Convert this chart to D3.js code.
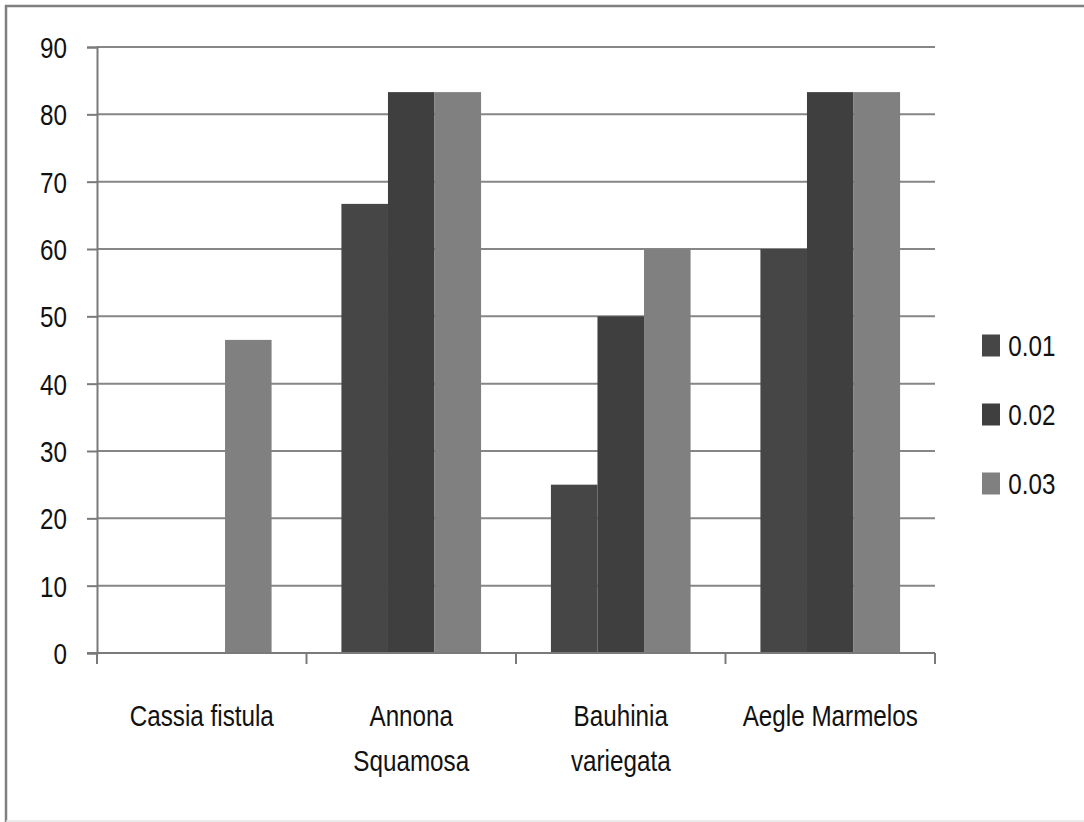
<!DOCTYPE html>
<html>
<head>
<meta charset="utf-8">
<script src="https://cdn.jsdelivr.net/npm/d3@7"></script>
<style>
  html, body { margin: 0; padding: 0; background: #fff; }
  svg { display: block; }
  text { font-family: "Liberation Sans", Arial, sans-serif; fill: #111; }
</style>
</head>
<body>
<svg id="chart" width="1084" height="822"></svg>
<script>
// Plant extracts and their response at three concentrations
const categories = [["Cassia fistula"], ["Annona", "Squamosa"], ["Bauhinia", "variegata"], ["Aegle Marmelos"]];
const seriesNames = ["0.01", "0.02", "0.03"];
const series001 = [null, 66.7, 25, 60];
const series002 = [null, 83.3, 50, 83.3];
const series003 = [46.5, 83.3, 60, 83.3];
const yTicks = [0, 10, 20, 30, 40, 50, 60, 70, 80, 90];
const seriesColors = ["#464646", "#3f3f3f", "#808080"];

const seriesValues = [series001, series002, series003];
const catKeys = categories.map(c => c.join(" "));
const textStretch = "scale(0.97,1.17)"; // tall, narrow lettering

const svg = d3.select("#chart");

// outer chart frame (right and bottom edges run off the canvas)
svg.append("rect")
  .attr("x", 6).attr("y", 6).attr("width", 1100).attr("height", 830)
  .attr("fill", "none").attr("stroke", "#7f7f7f").attr("stroke-width", 2.5);
svg.append("line").attr("x1", 6).attr("x2", 1084).attr("y1", 821).attr("y2", 821)
  .attr("stroke", "#e4e4e4").attr("stroke-width", 1.5);

const plot = { left: 97, right: 935, top: 47, bottom: 653 };

const y = d3.scaleLinear().domain([0, 90]).range([plot.bottom, plot.top]);
const x = d3.scaleBand().domain(catKeys).range([plot.left, plot.right]).paddingInner(0).paddingOuter(0);
const xs = d3.scaleBand().domain(seriesNames).range([0, x.bandwidth()]).paddingInner(0).paddingOuter(0.75);

// horizontal gridlines
svg.append("g").selectAll("line").data(yTicks.filter(t => t > 0)).join("line")
  .attr("x1", plot.left).attr("x2", plot.right)
  .attr("y1", d => y(d)).attr("y2", d => y(d))
  .attr("stroke", "#868686").attr("stroke-width", 2);

// bars
const barData = [];
catKeys.forEach((c, i) => {
  seriesNames.forEach((s, j) => {
    const v = seriesValues[j][i];
    if (v != null) barData.push({ c, s, v, j });
  });
});
svg.append("g").selectAll("rect").data(barData).join("rect")
  .attr("x", d => x(d.c) + xs(d.s))
  .attr("width", xs.bandwidth())
  .attr("y", d => y(d.v))
  .attr("height", d => y(0) - y(d.v))
  .attr("fill", d => seriesColors[d.j]);

// y axis
const yAxis = d3.axisLeft(y).tickValues(yTicks).tickSize(10).tickPadding(20).tickFormat(d3.format("d"));
const gy = svg.append("g").attr("transform", `translate(${plot.left},0)`).call(yAxis);
gy.select(".domain").attr("stroke", "#7a7a7a").attr("stroke-width", 2);
gy.selectAll(".tick line").attr("stroke", "#7a7a7a").attr("stroke-width", 2);
gy.selectAll(".tick text").style("font-size", "25px").attr("fill", "#111")
  .attr("x", -31).attr("dy", "0.36em").attr("transform", textStretch);

// x axis: ticks at the category boundaries
const gx = svg.append("g").attr("transform", `translate(0,${plot.bottom})`);
gx.append("line").attr("x1", plot.left - 10).attr("x2", plot.right)
  .attr("stroke", "#7a7a7a").attr("stroke-width", 2);
const bounds = catKeys.map(c => x(c)).concat([plot.right]);
gx.selectAll("line.tk").data(bounds).join("line").attr("class", "tk")
  .attr("x1", d => d).attr("x2", d => d).attr("y1", 0).attr("y2", 11)
  .attr("stroke", "#7a7a7a").attr("stroke-width", 2);

// category labels (multi-line)
const lab = svg.append("g").selectAll("text").data(categories).join("text")
  .attr("text-anchor", "middle")
  .style("font-size", "25px")
  .attr("transform", (d, i) => `translate(${x(catKeys[i]) + x.bandwidth() / 2},726) ${textStretch}`);
lab.selectAll("tspan").data(d => d).join("tspan")
  .attr("x", 0).attr("y", (d, i) => i * 38.5)
  .text(d => d);

// legend
const legend = svg.append("g").selectAll("g").data(seriesNames).join("g")
  .attr("transform", (d, i) => `translate(982,${345.5 + i * 69})`);
legend.append("rect").attr("x", 0).attr("y", -11).attr("width", 18).attr("height", 22)
  .attr("fill", (d, i) => seriesColors[i]);
legend.append("text").attr("x", 27).attr("dy", "0.36em")
  .attr("transform", textStretch)
  .style("font-size", "25px").text(d => d);
</script>
</body>
</html>
